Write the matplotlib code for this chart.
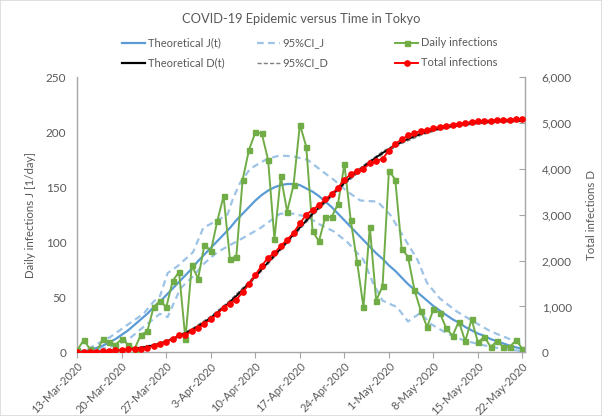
import matplotlib
matplotlib.use("Agg")
import matplotlib.pyplot as plt
from matplotlib.lines import Line2D

plt.rcParams['font.family'] = ['Lato', 'DejaVu Sans']

# ---------------- data ----------------
days = list(range(71))  # 13-Mar-2020 .. 22-May-2020
tick_days = [0, 7, 14, 21, 28, 35, 42, 49, 56, 63, 70]
tick_labels = ['13-Mar-2020', '20-Mar-2020', '27-Mar-2020', '3-Apr-2020', '10-Apr-2020',
               '17-Apr-2020', '24-Apr-2020', '1-May-2020', '8-May-2020', '15-May-2020',
               '22-May-2020']

daily_infections = [2, 11, 3, 0, 12, 9, 7, 12, 7, 3, 16, 19,
                    41, 47, 41, 65, 73, 12, 79, 67, 98, 92, 119, 142, 85, 87, 157, 184, 200,
                    199, 175, 103, 160, 128, 152, 207, 187, 110, 101, 123, 123, 135, 171,
                    120, 82, 41, 114, 47, 60, 165, 157, 94, 87, 57, 38, 23, 39,
                    36, 22, 15, 28, 10, 30, 9, 14, 5, 10, 5, 5, 11, 3]

total_infections = [2, 13, 16, 16, 28, 37, 44, 56, 63, 66, 82, 101,
                    142, 189, 230, 295, 368, 380, 459, 526, 624, 716, 835, 977, 1062, 1149,
                    1306, 1490, 1690, 1889, 2064, 2167, 2327, 2455, 2607, 2814, 3001, 3111,
                    3212, 3335, 3458, 3593, 3764, 3884, 3966, 4007, 4121, 4168, 4228, 4393,
                    4550, 4644, 4731, 4788, 4826, 4849, 4888, 4924, 4946, 4961, 4989, 4999,
                    5029, 5038, 5052, 5057, 5067, 5072, 5077, 5088, 5091]

theoretical_J = [0.5, 1, 2, 4, 6, 9, 12, 16, 20, 25, 30, 35, 41, 46, 52, 58, 64, 70, 76, 83,
                 89, 95, 101, 107, 113, 120, 126, 132, 138, 143, 147, 150, 152, 153, 153, 152,
                 149, 146, 142, 137, 132, 126, 120, 114, 108, 102, 96, 90, 85, 79, 74, 68, 62,
                 57, 52, 47, 42, 38, 34, 30, 27, 23, 20, 17, 15, 12, 10, 8, 6, 4.5, 3]

theoretical_D = [1, 2, 4, 8, 13, 21, 32, 46, 61, 79, 101, 126, 157, 195, 240, 293, 352, 417,
                 488, 571, 660, 759, 866, 980, 1101, 1231, 1367, 1509, 1657, 1808, 1962, 2112,
                 2264, 2417, 2570, 2722, 2871, 3017, 3159, 3296, 3428, 3564, 3694, 3818, 3936,
                 4048, 4154, 4254, 4349, 4433, 4512, 4585, 4652, 4709, 4761, 4808, 4850, 4888,
                 4917, 4942, 4964, 4982, 4997, 5011, 5024, 5034, 5042, 5048, 5052, 5055, 5057]

ci_j_upper_days = [0, 2, 5.2, 7.9, 10.4, 12, 13, 14.2, 15.7, 18.2, 19.8, 22, 23.6, 24.5, 25.6,
                   27.2, 29.9, 31.9, 34, 36.2, 38.2, 40.3, 42.5, 44.5, 47.2, 49.2, 51.3, 53.5,
                   55, 57, 59.7, 62.3, 65, 67.6, 70]
ci_j_upper = [0, 4, 14, 25, 35, 46, 51, 72, 78, 91, 113, 120, 125, 140, 154,
              167, 176, 179, 178, 175, 166, 157, 146, 138, 137, 125, 105, 84,
              63, 49, 37, 28, 19, 13, 7]

ci_j_lower_days = [0, 2.5, 5.2, 7.9, 10.4, 13, 14.2, 16.2, 18.2, 19.8, 22, 24.5, 26.7, 28.8,
                   31.9, 34, 36.2, 38.2, 40.3, 42.5, 45, 46.5, 48, 50.3, 52, 54, 55.5, 58.2,
                   60.7, 63.4, 66, 68.6, 70]
ci_j_lower = [0, 2, 5, 11, 23, 35, 32, 58, 69, 80, 91, 99, 106, 113,
              126, 126, 123, 116, 110, 100, 84, 63, 47, 41, 28, 36, 26, 17,
              11, 7, 4, 2, 1]

ci_d_days = [0, 3, 6, 9, 12, 15, 18, 21, 24, 27, 30, 33, 36, 39, 42, 45, 48, 51, 54, 57,
             60, 63, 66, 69, 70]
ci_d_upper = [2, 12, 39, 89, 171, 311, 510, 785, 1131, 1541, 1996, 2452, 2906, 3330, 3727,
              4080, 4380, 4614, 4788, 4913, 4988, 5034, 5064, 5077, 5079]
ci_d_lower = [0, 5, 25, 69, 143, 275, 466, 733, 1071, 1477, 1928, 2382, 2836, 3262, 3661,
              4016, 4318, 4556, 4734, 4863, 4940, 4988, 5020, 5033, 5035]

# ---------------- figure ----------------
W, H = 602, 416
fig = plt.figure(figsize=(W / 100, H / 100), dpi=100)
ax = fig.add_axes([77.3 / W, 1 - 352.3 / H, (525 - 77.3) / W, (352.3 - 77.3) / H])
ax2 = ax.twinx()

c_j = '#5B9BD5'
c_ci = '#9DC3E6'
c_green = '#70AD47'
c_red = '#FF0000'
c_txt = '#595959'
c_axis = '#A6A6A6'
c_cid = '#7F7F7F'

ax.plot(days, theoretical_J, color=c_j, lw=1.6, zorder=3)
ax.plot(ci_j_upper_days, ci_j_upper, color=c_ci, lw=1.6, ls=(0, (3, 2)), zorder=2)
ax.plot(ci_j_lower_days, ci_j_lower, color=c_ci, lw=1.6, ls=(0, (3, 2)), zorder=2)
ax.plot(days, daily_infections, color=c_green, lw=1.4, marker='s', ms=3.6, zorder=4)

ax2.plot(ci_d_days, ci_d_upper, color=c_cid, lw=1.0, ls=(0, (3, 1.5)), zorder=2)
ax2.plot(ci_d_days, ci_d_lower, color=c_cid, lw=1.0, ls=(0, (3, 1.5)), zorder=2)
ax2.plot(days, theoretical_D, color='black', lw=1.3, zorder=3)
ax2.plot(days, total_infections, color=c_red, lw=1.3, marker='o', ms=3.8, zorder=4)

ax.set_xlim(0, 70.4)
ax.set_ylim(0, 250)
ax2.set_ylim(0, 6000)
ax.set_yticks([0, 50, 100, 150, 200, 250])
ax2.set_yticks([0, 1000, 2000, 3000, 4000, 5000, 6000])
ax2.set_yticklabels(['0', '1,000', '2,000', '3,000', '4,000', '5,000', '6,000'])
ax.set_xticks(tick_days)
ax.set_xticklabels(tick_labels, rotation=45, ha='right', va='top', rotation_mode='anchor')

for a in (ax, ax2):
    for s in a.spines.values():
        s.set_color(c_axis)
        s.set_linewidth(1.0)
    a.spines['top'].set_visible(False)
ax.spines['right'].set_visible(False)
ax2.spines['left'].set_visible(False)
ax2.spines['bottom'].set_visible(False)

ax.tick_params(axis='y', length=0, labelsize=8.5, labelcolor=c_txt, pad=8)
ax.tick_params(axis='x', length=4, color=c_axis, labelsize=8, labelcolor=c_txt, pad=2)
ax2.tick_params(axis='y', direction='in', length=4, color=c_axis, labelsize=8.5,
                labelcolor=c_txt, pad=12)

ax.set_ylabel('Daily infections J [1/day]', fontsize=8.3, color=c_txt, labelpad=7)
ax2.set_ylabel('Total infections D', fontsize=8.3, color=c_txt, rotation=90, labelpad=10)

fig.text(0.5, 1 - 19 / H, 'COVID-19 Epidemic versus Time in Tokyo', ha='center', va='center',
         fontsize=9.3, color=c_txt)

# legend: three columns, two rows
h_j = Line2D([], [], color=c_j, lw=1.6)
h_d = Line2D([], [], color='black', lw=1.6)
h_cij = Line2D([], [], color=c_ci, lw=1.6, ls=(0, (3, 2)))
h_cid = Line2D([], [], color=c_cid, lw=1.0, ls=(0, (3, 1.5)))
h_daily = Line2D([], [], color=c_green, lw=1.4, marker='s', ms=3.6)
h_total = Line2D([], [], color=c_red, lw=1.4, marker='o', ms=3.8)

groups = [([h_j, h_d], ['Theoretical J(t)', 'Theoretical D(t)'], 122),
          ([h_cij, h_cid], ['95%CI_J', '95%CI_D'], 257),
          ([h_daily, h_total], ['Daily infections', 'Total infections'], 395)]
for hs, ls, xpx in groups:
    fig.legend(hs, ls, loc='upper left', bbox_to_anchor=(xpx / W, 1 - 37.5 / H),
               frameon=False, fontsize=8, handlelength=2.1, handletextpad=0.2,
               borderpad=0, borderaxespad=0, labelspacing=0.8, labelcolor=c_txt)

fig.patches.append(plt.Rectangle((0, 0), 1, 1, transform=fig.transFigure, fill=False,
                                 edgecolor='#D9D9D9', lw=1.2))

fig.savefig('out.png', dpi=100)
